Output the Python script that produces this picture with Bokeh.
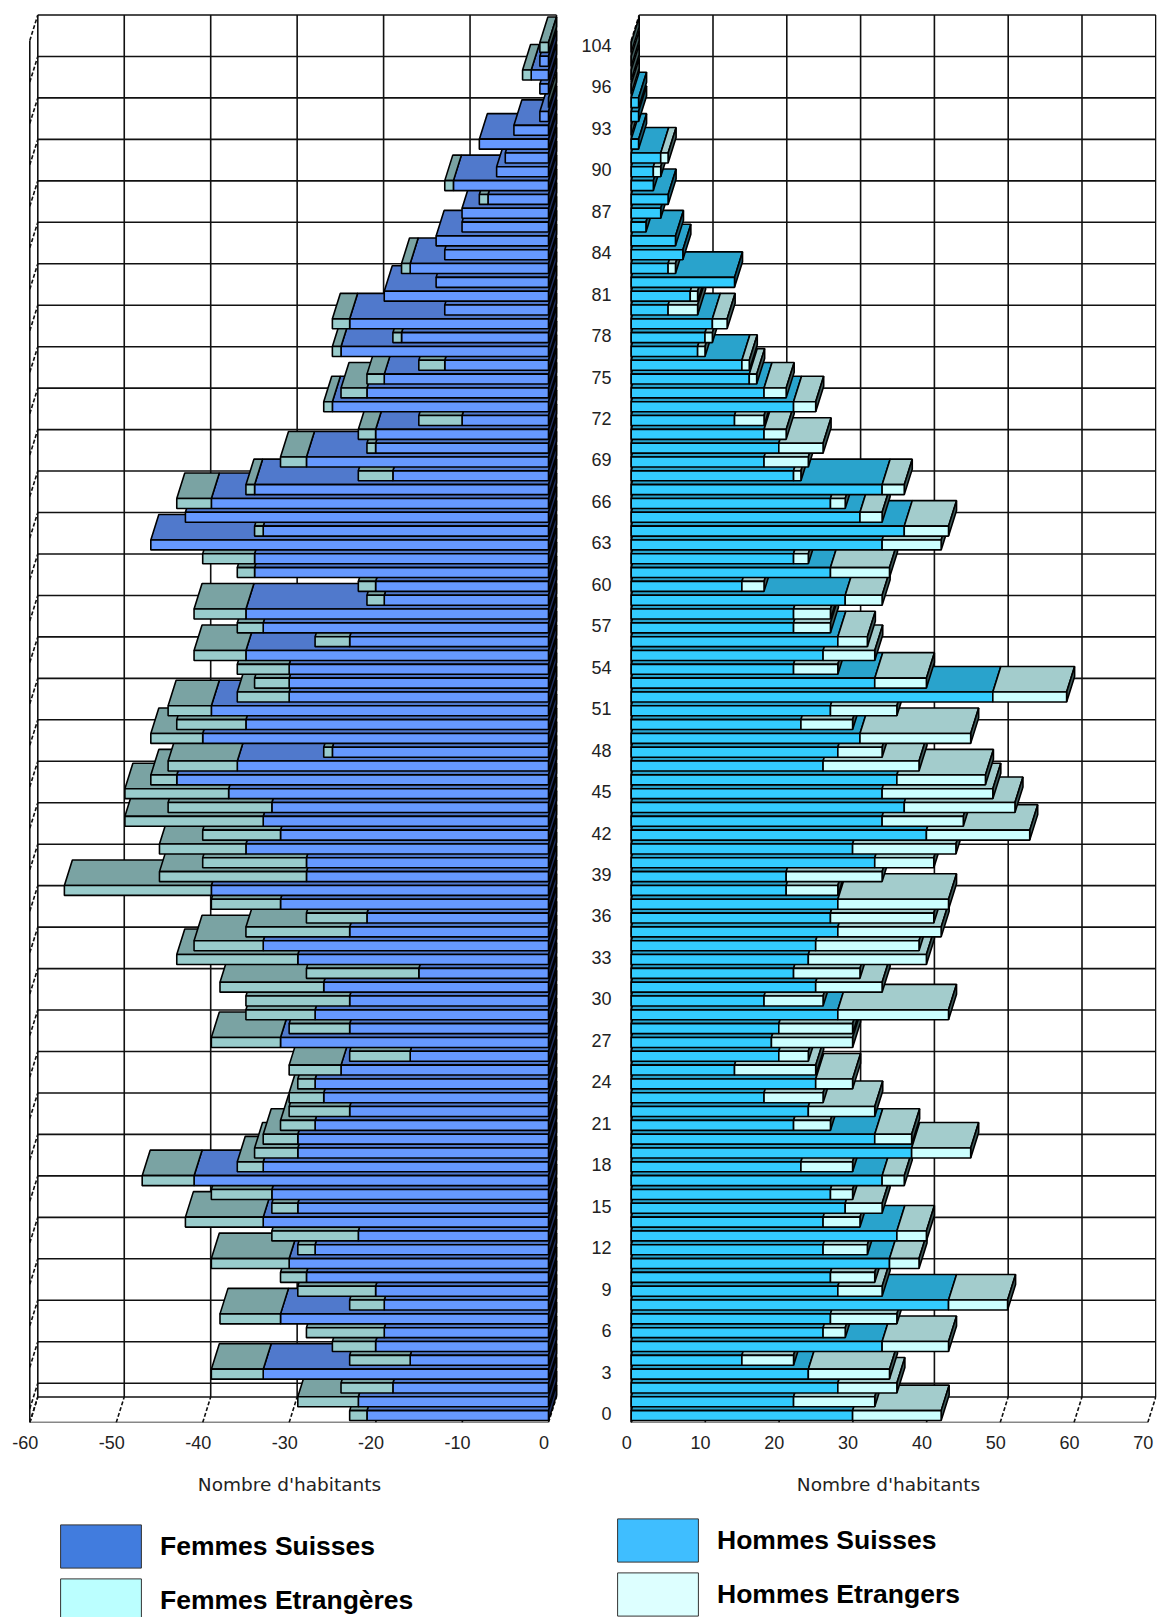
from bokeh.embed import file_html
from bokeh.layouts import column, row
from bokeh.models import FixedTicker, Legend, LegendItem, Range1d
from bokeh.plotting import figure
from bokeh.resources import INLINE

# ---- data: index 0 is the bottom row of each pyramid ------------------------
femmes_suisses = [21,22,18,33,16,20,19,31,19,20,28,30,27,22,33,29,32,41,33,29,
                  29,27,23,26,27,24,16,31,23,27,23,26,15,29,33,23,21,31,39,28,
                  28,35,31,33,32,37,43,36,25,40,35,39,30,30,30,35,23,33,35,19,
                  20,34,34,46,33,42,39,34,18,28,20,20,10,25,21,19,12,24,17,23,
                  12,19,13,16,12,13,10,10,7,11,6,5,8,4,1,0,1,2,1,0]
femmes_etrangeres = [2,7,6,6,7,5,9,7,4,9,3,9,2,10,9,3,7,6,3,5,
                     4,4,7,4,2,6,7,8,7,8,12,12,13,14,8,12,7,8,17,17,
                     12,10,9,16,12,12,3,8,1,6,8,5,6,4,6,6,4,3,6,2,
                     2,2,6,0,1,0,4,1,4,3,1,2,5,1,3,2,3,1,1,2,
                     0,0,0,1,0,0,0,0,1,1,0,0,0,0,0,0,0,1,0,1]
hommes_suisses = [30,22,28,24,15,34,26,27,43,28,27,35,26,36,26,29,27,34,23,38,
                  33,22,24,18,25,14,20,19,20,28,18,25,22,24,25,28,27,28,21,21,
                  33,30,40,34,37,34,36,26,28,31,23,27,49,33,22,26,28,22,22,29,
                  15,27,22,34,37,31,27,34,22,18,20,18,14,22,18,16,15,9,10,11,
                  5,8,14,5,7,6,2,4,5,3,3,4,1,0,1,1,0,0,0,0]
hommes_etrangers = [12,11,8,11,7,9,3,9,8,6,6,4,6,4,5,5,3,3,7,8,
                    5,5,9,8,5,11,4,11,10,15,8,9,9,16,14,14,14,15,7,13,
                    8,14,14,11,15,15,12,13,6,15,7,9,10,7,6,7,4,5,5,5,
                    3,8,2,8,6,3,2,3,1,6,6,3,4,3,3,1,1,1,1,2,
                    4,1,0,1,0,0,0,0,0,0,1,1,0,0,0,0,0,0,0,0]
age_ticks = list(range(0, 100, 3))
age_labels = [str(a) for a in range(0, 97, 3)] + ["104"]
left_ticks = [-60, -50, -40, -30, -20, -10, 0]
right_ticks = [0, 10, 20, 30, 40, 50, 60, 70]
grid_rows = list(range(1, 101, 3))
axis_title = "Nombre d'habitants"

# ---- styling and geometry (pixels) -------------------------------------------
FONT = "Liberation Sans"
PY = 13.82
LX, RX = 8.645, 7.38
BAR_H = 0.72
DEPTH_PX, DEPTH_PY = 8.0, 25.5
TOP_ROWS = 100
TOP_H = 1500
BORDER_TOP = 8
BOTTOM = 78
FRAME_H = TOP_H - BOTTOM - BORDER_TOP
LABEL_SHIFT = 4.5
COL_L = dict(front="#6699FF", top="#5079CC", side="#1F3060",
             front2="#99CCCC", top2="#7AA3A3", side2="#3F5A5A")
COL_R = dict(front="#33CCFF", top="#29A3CC", side="#15586F",
             front2="#CCFFFF", top2="#A3CCCC", side2="#3F5A5A")


def make_panel(width, border_l, border_r, x_start, scale, ticks, yaxis):
    frame_w = width - border_l - border_r
    p = figure(width=width, height=TOP_H, output_backend="svg", toolbar_location=None,
               x_range=Range1d(x_start, x_start + frame_w / scale),
               y_range=Range1d(0, FRAME_H / PY),
               min_border_left=border_l, min_border_right=border_r,
               min_border_top=BORDER_TOP, min_border_bottom=BOTTOM,
               y_axis_location="left" if yaxis else None)
    p.grid.visible = False
    p.outline_line_color = None
    p.background_fill_color = "white"
    ax = p.xaxis[0]
    label_pos = [t - LABEL_SHIFT / scale for t in ticks]
    ax.ticker = FixedTicker(ticks=label_pos)
    ax.major_label_overrides = {q: str(t) for q, t in zip(label_pos, ticks)}
    ax.axis_line_color = None
    ax.major_tick_line_color = None
    ax.minor_tick_line_color = None
    ax.major_label_standoff = 7
    ax.major_label_text_font = FONT
    ax.major_label_text_font_size = "18px"
    ax.major_label_text_color = "#222222"
    ax.axis_label = axis_title
    ax.axis_label_text_font = "DejaVu Sans"
    ax.axis_label_text_font_style = "normal"
    ax.axis_label_text_font_size = "18.5px"
    ax.axis_label_text_color = "#222222"
    ax.axis_label_standoff = 22
    if yaxis:
        ay = p.yaxis[0]
        pos = [a + 0.65 for a in age_ticks]
        ay.ticker = FixedTicker(ticks=pos)
        ay.major_label_overrides = {q: s for q, s in zip(pos, age_labels)}
        ay.axis_line_color = None
        ay.major_tick_line_color = None
        ay.minor_tick_line_color = None
        ay.major_label_standoff = 3
        ay.major_label_text_align = "center"
        ay.major_label_text_font = FONT
        ay.major_label_text_font_size = "18px"
        ay.major_label_text_color = "#222222"
    return p


def draw_walls(p, scale, ticks):
    dx, dy = DEPTH_PX / scale, DEPTH_PY / PY
    lo, hi = ticks[0], ticks[-1]
    xs, ys = [], []
    for t in ticks:
        xs.append([t + dx, t + dx]); ys.append([dy, TOP_ROWS + dy])
    for r in grid_rows:
        xs.append([lo + dx, hi + dx]); ys.append([r + dy, r + dy])
    xs.append([lo + dx, hi + dx]); ys.append([dy, dy])
    xs.append([lo, lo]); ys.append([0, TOP_ROWS])
    xs.append([lo, hi]); ys.append([0, 0])
    p.multi_line(xs, ys, line_color="#111111", line_width=1.6)
    sx, sy = [], []
    for t in ticks:
        sx.append([t, t + dx]); sy.append([0, dy])
    for r in grid_rows + [0]:
        sx.append([lo, lo + dx]); sy.append([r, r + dy])
    p.multi_line(sx, sy, line_color="#111111", line_width=1.6, line_dash="4 2")


def bar_polys(suisses, etrangers, sign, scale, col):
    dx, dy = DEPTH_PX / scale, DEPTH_PY / PY
    xs, ys, colors = [], [], []

    def add(px, py, c):
        xs.append(px); ys.append(py); colors.append(c)

    for i, (s, e) in enumerate(zip(suisses, etrangers)):
        yb = i + 0.5 - BAR_H / 2
        yt = i + 0.5 + BAR_H / 2
        a, b = sign * s, sign * (s + e)
        segs = [(0, a, col["front"], col["top"]), (a, b, col["front2"], col["top2"])]
        for x1, x2, _, top in segs:
            if x1 != x2:
                add([x1, x2, x2 + dx, x1 + dx], [yt, yt, yt + dy, yt + dy], top)
        xr = 0 if sign < 0 else b
        sc = col["side"] if (s > 0 and (sign < 0 or e == 0)) else col["side2"]
        add([xr, xr, xr + dx, xr + dx], [yb, yt, yt + dy, yb + dy], sc)
        for x1, x2, front, _ in segs:
            if x1 != x2:
                add([x1, x2, x2, x1], [yb, yb, yt, yt], front)
    return dict(xs=xs, ys=ys, color=colors)


left = make_panel(558, 20, 0, -60 - 9.3 / LX, LX, left_ticks, False)
draw_walls(left, LX, left_ticks)
left.patches("xs", "ys", source=bar_polys(femmes_suisses, femmes_etrangeres, -1, LX, COL_L),
             fill_color="color", line_color="black", line_width=1.6)

right = make_panel(599, 62, 1, -10.7 / RX, RX, right_ticks, True)
draw_walls(right, RX, right_ticks)
right.patches("xs", "ys", source=bar_polys(hommes_suisses, hommes_etrangers, 1, RX, COL_R),
              fill_color="color", line_color="black", line_width=1.6)


def make_legend(width, entries, location, spacing, standoff):
    p = figure(width=width, height=117, output_backend="svg", toolbar_location=None,
               x_range=Range1d(0, 1), y_range=Range1d(0, 1),
               x_axis_location=None, y_axis_location=None,
               min_border_left=0, min_border_right=0, min_border_top=0, min_border_bottom=0)
    p.grid.visible = False
    p.outline_line_color = None
    items = []
    for label, color in entries:
        # the sample itself lies outside the ranges: only its legend swatch shows
        r = p.quad(left=[2], right=[3], top=[3], bottom=[2], fill_color=color,
                   line_color="#333333", line_width=1)
        items.append(LegendItem(label=label, renderers=[r]))
    lg = Legend(items=items, location=location, glyph_width=101, glyph_height=54, spacing=spacing,
                label_standoff=standoff, padding=0, margin=0, border_line_color=None,
                background_fill_alpha=0, label_text_font=FONT, label_text_font_style="bold",
                label_text_font_size="26.5px", label_text_color="black")
    p.add_layout(lg)
    return p


leg_l = make_legend(558, [("Femmes Suisses", "#417CDE"), ("Femmes Etrangères", "#BBFFFF")], (50, -10), -2, 9)
leg_r = make_legend(599, [("Hommes Suisses", "#3FBEFF"), ("Hommes Etrangers", "#DDFFFF")], (49, -4), -5, 9)

page = column(row(left, right), row(leg_l, leg_r))
open("out.html", "w").write(file_html(page, INLINE))
